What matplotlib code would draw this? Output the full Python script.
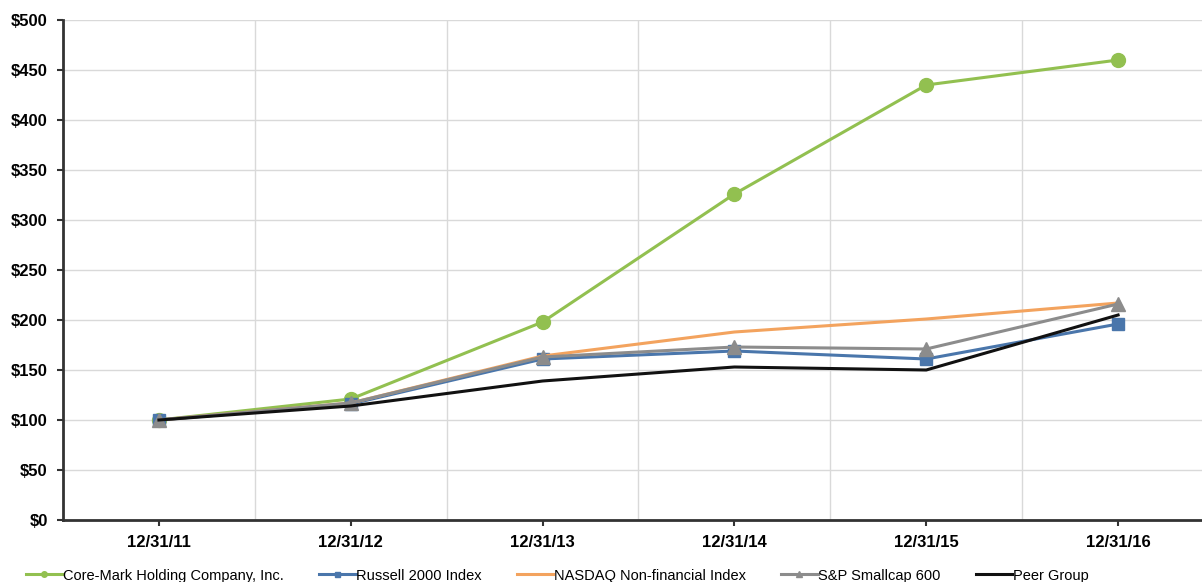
"""Cumulative total return comparison chart."""
import matplotlib.pyplot as plt
import numpy as np
from matplotlib.ticker import FuncFormatter, MultipleLocator

plt.rcParams["font.family"] = ["Liberation Sans", "DejaVu Sans"]

dates = ["12/31/11", "12/31/12", "12/31/13", "12/31/14", "12/31/15", "12/31/16"]
core_mark = [100, 121, 198, 326, 435, 460]
russell = [100, 116, 161, 169, 161, 196]
nasdaq = [100, 117, 164, 188, 201, 217]
sp600 = [100, 117, 163, 173, 171, 216]
peer = [100, 114, 139, 153, 150, 205]

x = np.arange(len(dates))

fig = plt.figure(figsize=(12.02, 5.82), dpi=100)
# right edge runs past the image, as in the original
ax = fig.add_axes([63 / 1202, 62 / 582, (1214 - 63) / 1202, 500 / 582])

ax.plot(x, core_mark, color="#92c050", lw=2.2, marker="o", ms=10,
        label="Core-Mark Holding Company, Inc.", zorder=3)
ax.plot(x, russell, color="#4a76ab", lw=2.2, marker="s", ms=9,
        label="Russell 2000 Index", zorder=3)
ax.plot(x, nasdaq, color="#f3a35e", lw=2.2, label="NASDAQ Non-financial Index", zorder=3)
ax.plot(x, sp600, color="#8c8c8c", lw=2.2, marker="^", ms=10,
        label="S&P Smallcap 600", zorder=3)
ax.plot(x, peer, color="#111111", lw=2.2, label="Peer Group", zorder=4)

ax.set_xlim(-0.5, len(dates) - 0.5)
ax.set_ylim(0, 500)
ax.set_xticks(x)
ax.set_xticklabels(dates, fontsize=12, fontweight="bold")
ax.set_xticks(np.arange(-0.5, len(dates), 0.5), minor=True)
ax.yaxis.set_major_locator(MultipleLocator(50))
ax.yaxis.set_major_formatter(FuncFormatter(lambda v, _: f"${v:.0f}"))
for lbl in ax.get_yticklabels():
    lbl.set_fontweight("bold")
    lbl.set_fontsize(12)

ax.grid(True, which="minor", axis="x", color="#d9d9d9", lw=1)
ax.grid(True, which="major", axis="y", color="#d9d9d9", lw=1)
ax.tick_params(axis="x", which="minor", length=0)
ax.tick_params(axis="both", which="major", length=4, width=1.5, color="#333333", pad=7)

for side in ("top", "right"):
    ax.spines[side].set_visible(False)
for side in ("left", "bottom"):
    ax.spines[side].set_linewidth(2)
    ax.spines[side].set_color("#333333")

handles, labels = ax.get_legend_handles_labels()
leg = fig.legend(handles, labels, loc="center left", bbox_to_anchor=(0.017, 0.011),
                 ncol=5, frameon=False, fontsize=10.5, handlelength=2.5,
                 columnspacing=2.4, handletextpad=0.05, markerscale=0.4,
                 borderaxespad=0)

fig.savefig("out.png", dpi=100)
